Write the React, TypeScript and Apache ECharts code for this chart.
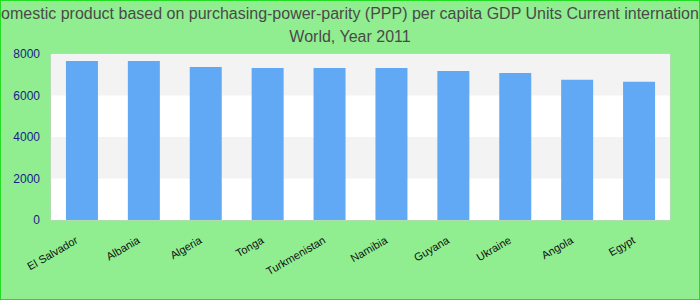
import React, { useEffect, useRef } from "react";
import * as echarts from "echarts";

const categories = ["El Salvador", "Albania", "Algeria", "Tonga", "Turkmenistan", "Namibia", "Guyana", "Ukraine", "Angola", "Egypt"];
const values = [7665, 7660, 7377, 7330, 7325, 7329, 7186, 7090, 6754, 6659];
const titleLine1 = "Gross domestic product based on purchasing-power-parity (PPP) per capita GDP Units Current international dollar";
const titleLine2 = "World, Year 2011";

export default function App() {
  const ref = useRef<HTMLDivElement>(null);
  useEffect(() => {
    const chart = echarts.init(ref.current!, null, { renderer: "svg" });
    chart.setOption({
      animation: false,
      backgroundColor: "#90EE90",
      title: {
        text: titleLine1 + "\n" + titleLine2,
        left: "center",
        top: -4,
        textStyle: {
          fontSize: 16,
          fontWeight: "normal",
          color: "#4a4a4a",
          fontFamily: "Liberation Sans, Arial, sans-serif",
          lineHeight: 23,
        },
      },
      grid: { left: 50, right: 29, top: 53, bottom: 79, show: true, backgroundColor: "#fff", borderColor: "#ccc", borderWidth: 1 },
      xAxis: {
        type: "category",
        data: categories,
        axisTick: { show: false },
        axisLine: { show: false },
        axisLabel: {
          rotate: 30,
          fontSize: 11,
          color: "#111",
          fontFamily: "Liberation Sans, Arial, sans-serif",
          margin: 16,
          interval: 0,
          padding: [0, 6, 0, 0],
        },
      },
      yAxis: {
        type: "value",
        min: 0,
        max: 8000,
        interval: 2000,
        axisLine: { show: false },
        axisTick: { show: false },
        splitLine: { show: false },
        splitArea: { show: true, areaStyle: { color: ["#ffffff", "#f3f3f3"] } },
        axisLabel: {
          fontSize: 12,
          color: "#1a1a8c",
          fontFamily: "Liberation Sans, Arial, sans-serif",
          margin: 11,
          formatter: (v: number) => String(v),
        },
      },
      series: [
        {
          type: "bar",
          data: values,
          barWidth: 32,
          itemStyle: { color: "#62a9f5" },
        },
      ],
    });
    return () => chart.dispose();
  }, []);
  return (
    <div
      style={{ position: "fixed", left: 0, top: 0, width: 700, height: 300, boxSizing: "border-box", border: "1px solid #22dd22", background: "#90EE90" }}
    >
      <div ref={ref} style={{ width: 698, height: 298 }} />
    </div>
  );
}
